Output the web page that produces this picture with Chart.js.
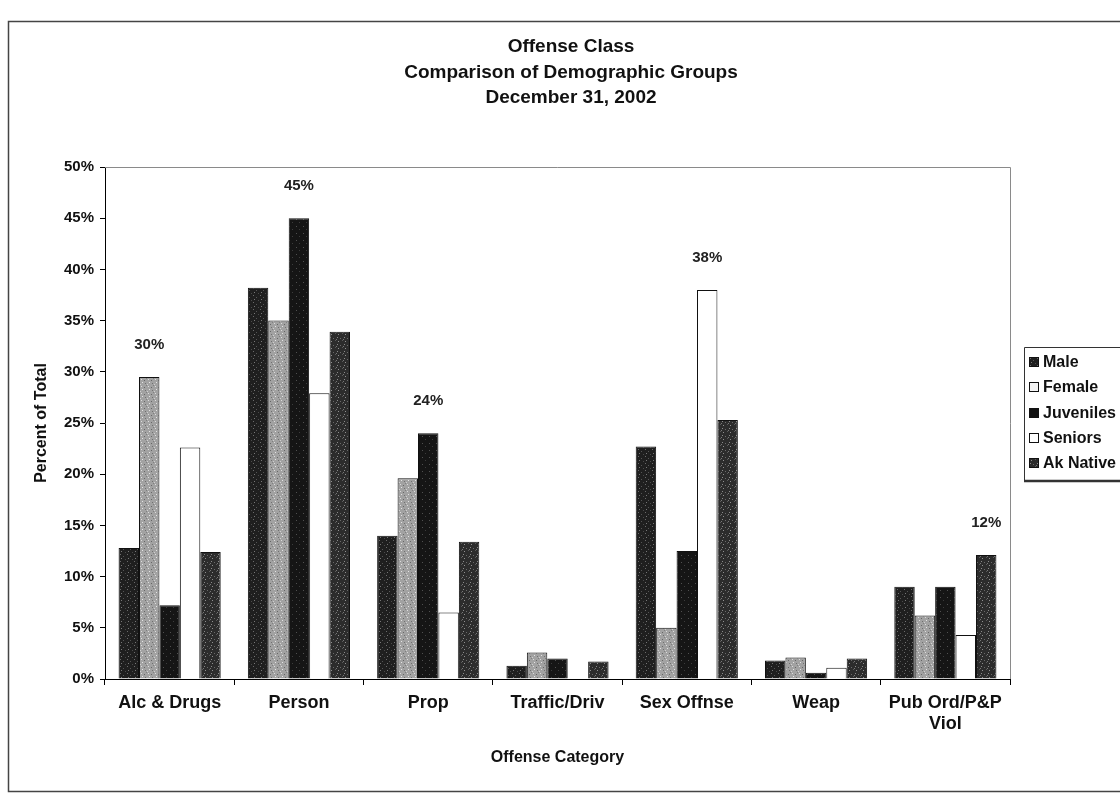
<!DOCTYPE html>
<html><head><meta charset="utf-8">
<script src="https://cdn.jsdelivr.net/npm/chart.js@4"></script>
<style>html,body{margin:0;padding:0;background:#fff;overflow:hidden}#wrap{width:1120px;height:794px;position:relative}</style>
</head><body><div id="wrap"><canvas id="c" width="1120" height="794"></canvas></div>
<script>
const categories = ["Alc & Drugs", "Person", "Prop", "Traffic/Driv", "Sex Offnse", "Weap", ["Pub Ord/P&P", "Viol"]];
const seriesNames = ["Male", "Female", "Juveniles", "Seniors", "Ak Native"];
const male      = [12.8, 38.2, 14.0, 1.3, 22.7, 1.8, 9.0];
const female    = [29.5, 35.0, 19.6, 2.6, 5.0, 2.1, 6.2];
const juveniles = [7.2, 45.0, 24.0, 2.0, 12.5, 0.6, 9.0];
const seniors   = [22.6, 27.9, 6.5, 0, 38.0, 1.1, 4.3];
const akNative  = [12.4, 33.9, 13.4, 1.7, 25.3, 2.0, 12.1];
const peakLabels = ["30%", "45%", "24%", "", "38%", "", "12%"];
const titleLines = ["Offense Class", "Comparison of Demographic Groups", "December 31, 2002"];
const yAxisTitle = "Percent of Total";
const xAxisTitle = "Offense Category";
const yMax = 50, yStep = 5;

const FONT = "'Liberation Sans', Arial, sans-serif";

function makePattern(base, dots) {
  const c = document.createElement('canvas');
  c.width = 7; c.height = 7;
  const g = c.getContext('2d');
  g.fillStyle = base; g.fillRect(0, 0, 7, 7);
  dots.forEach(d => { g.fillStyle = d[2]; g.fillRect(d[0], d[1], 1, 1); });
  return g.createPattern(c, 'repeat');
}
const cctx = document.getElementById('c').getContext('2d');
const fills = [
  makePattern('#1f1f1f', [[1,1,'#6a6a6a'],[4,3,'#555'],[2,5,'#777'],[6,6,'#4a4a4a']]),
  makePattern('#a2a2a2', [[1,1,'#dcdcdc'],[4,2,'#666'],[2,4,'#e4e4e4'],[5,5,'#707070'],[0,6,'#cfcfcf'],[6,0,'#808080']]),
  makePattern('#151515', [[2,2,'#505050'],[5,5,'#3c3c3c']]),
  '#ffffff',
  makePattern('#2c2c2c', [[1,1,'#8a8a8a'],[4,2,'#6a6a6a'],[2,5,'#909090'],[6,4,'#5a5a5a'],[0,3,'#777']])
];
const legendFills = [fills[0], '#f4f4f4', '#111', '#ffffff', fills[4]];
const seriesData = [male, female, juveniles, seniors, akNative];

const datasets = seriesNames.map((n, i) => ({
  label: n,
  data: seriesData[i],
  backgroundColor: fills[i],
  borderColor: '#111',
  borderWidth: 1,
  barPercentage: 1.0,
  categoryPercentage: 0.79
}));

const framePlugin = {
  id: 'frame',
  beforeDraw(chart) {
    const ctx = chart.ctx;
    ctx.save(); ctx.fillStyle = '#fff'; ctx.fillRect(0, 0, chart.width, chart.height); ctx.restore();
  },
  afterDraw(chart) {
    const ctx = chart.ctx, a = chart.chartArea;
    ctx.save();
    // outer frame
    ctx.strokeStyle = '#444'; ctx.lineWidth = 1.5;
    ctx.beginPath();
    ctx.moveTo(1120, 21.5); ctx.lineTo(8.5, 21.5); ctx.lineTo(8.5, 791.5); ctx.lineTo(1120, 791.5);
    ctx.stroke();
    // plot area top/right border
    ctx.strokeStyle = '#8a8a8a'; ctx.lineWidth = 1;
    ctx.beginPath();
    ctx.moveTo(a.left, a.top + 0.5); ctx.lineTo(a.right + 0.5, a.top + 0.5); ctx.lineTo(a.right + 0.5, a.bottom);
    ctx.stroke();
    // title
    ctx.fillStyle = '#111'; ctx.textAlign = 'center'; ctx.textBaseline = 'middle';
    ctx.font = 'bold 19px ' + FONT;
    const ty = [47, 73, 98];
    titleLines.forEach((t, i) => ctx.fillText(t, 571, ty[i]));
    // peak labels
    ctx.font = 'bold 15px ' + FONT;
    ctx.fillStyle = '#222';
    peakLabels.forEach((lab, i) => {
      if (!lab) return;
      let best = 0, bv = -1;
      chart.data.datasets.forEach((d, di) => { if (d.data[i] > bv) { bv = d.data[i]; best = di; } });
      const el = chart.getDatasetMeta(best).data[i];
      ctx.fillText(lab, el.x, el.y - 32);
    });
    // legend
    const lx = 1024, ly = 347, lh = 133;
    ctx.strokeStyle = '#333'; ctx.lineWidth = 1;
    ctx.beginPath();
    ctx.moveTo(1120, ly + 0.5); ctx.lineTo(lx + 0.5, ly + 0.5); ctx.lineTo(lx + 0.5, ly + lh);
    ctx.stroke();
    ctx.lineWidth = 2.5;
    ctx.beginPath(); ctx.moveTo(lx, ly + lh + 1); ctx.lineTo(1120, ly + lh + 1); ctx.stroke();
    ctx.font = 'bold 16px ' + FONT;
    ctx.textAlign = 'left';
    const iy = [362, 387, 413, 438, 463];
    chart.data.datasets.forEach((d, i) => {
      ctx.fillStyle = legendFills[i];
      ctx.fillRect(lx + 5, iy[i] - 5, 10, 10);
      ctx.lineWidth = 1; ctx.strokeStyle = '#111';
      ctx.strokeRect(lx + 5.5, iy[i] - 4.5, 9, 9);
      ctx.fillStyle = '#111';
      ctx.fillText(d.label, lx + 19, iy[i] + 1);
    });
    ctx.restore();
  }
};

new Chart(cctx, {
  type: 'bar',
  data: { labels: categories, datasets },
  options: {
    responsive: false,
    animation: false,
    devicePixelRatio: 1,
    layout: { padding: { top: 167, right: 110, left: 0, bottom: 0 } },
    plugins: { legend: { display: false }, title: { display: false }, tooltip: { enabled: false } },
    scales: {
      x: {
        grid: { display: true, drawOnChartArea: false, drawTicks: true, tickLength: 6, color: '#000', offset: true },
        border: { color: '#000', width: 1 },
        ticks: { font: { family: FONT, size: 18, weight: 'bold' }, color: '#111', padding: 7, maxRotation: 0, autoSkip: false },
        title: { display: true, text: xAxisTitle, color: '#111', font: { family: FONT, size: 16, weight: 'bold' }, padding: { bottom: 27, top: 0 } },
        afterFit(s) { s.height = 115; }
      },
      y: {
        min: 0, max: yMax,
        ticks: { stepSize: yStep, callback: v => v + '%', font: { family: FONT, size: 15, weight: 'bold' }, color: '#111', padding: 6 },
        grid: { drawOnChartArea: false, drawTicks: true, tickLength: 5, color: '#000' },
        border: { color: '#000', width: 1 },
        title: { display: true, text: yAxisTitle, color: '#111', font: { family: FONT, size: 16, weight: 'bold' }, padding: { top: 32, bottom: 0 } },
        afterFit(s) { s.width = 105; }
      }
    }
  },
  plugins: [framePlugin]
});
</script>
</body></html>
